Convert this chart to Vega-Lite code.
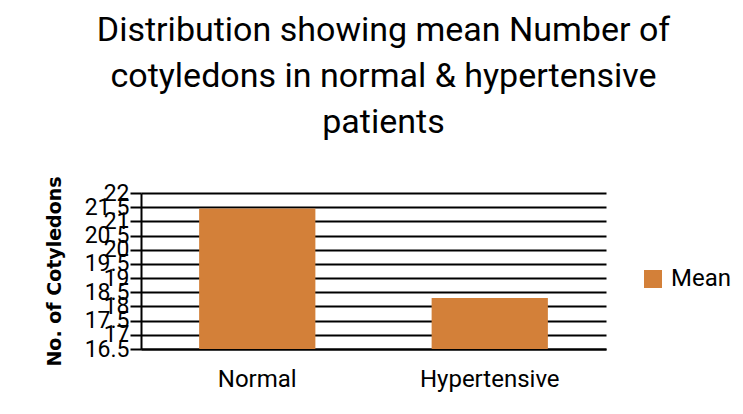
{
  "$schema": "https://vega.github.io/schema/vega-lite/v6.json",
  "autosize": "none",
  "width": 465,
  "height": 156,
  "padding": {"left": 141, "top": 193, "right": 137, "bottom": 65},
  "background": "white",
  "title": {
    "text": ["Distribution showing mean Number of", "cotyledons in normal & hypertensive", "patients"],
    "font": "Roboto",
    "fontSize": 34,
    "fontWeight": "normal",
    "color": "#000000",
    "lineHeight": 46,
    "anchor": "middle",
    "frame": "group",
    "dx": 10,
    "offset": 36
  },
  "data": {
    "values": [
      {"group": "Normal", "series": "Mean", "value": 21.45},
      {"group": "Hypertensive", "series": "Mean", "value": 18.3}
    ]
  },
  "mark": {"type": "bar", "color": "#D38039", "clip": true},
  "encoding": {
    "x": {
      "field": "group",
      "type": "nominal",
      "sort": ["Normal", "Hypertensive"],
      "scale": {"paddingInner": 0.5, "paddingOuter": 0.25},
      "axis": {
        "title": null,
        "labelAngle": 0,
        "labelFont": "Roboto",
        "labelFontSize": 24,
        "labelColor": "#000000",
        "labelPadding": 18,
        "ticks": false,
        "domainColor": "#000000",
        "domainWidth": 2
      }
    },
    "y": {
      "field": "value",
      "type": "quantitative",
      "scale": {"domain": [16.5, 22], "zero": false, "nice": false},
      "axis": {
        "title": "No. of Cotyledons",
        "titleFont": "DejaVu Sans",
        "titleFontSize": 19,
        "titleFontWeight": "bold",
        "titleColor": "#000000",
        "titlePadding": 20,
        "values": [16.5, 17, 17.5, 18, 18.5, 19, 19.5, 20, 20.5, 21, 21.5, 22],
        "format": "~g",
        "labelFont": "Roboto",
        "labelFontSize": 23,
        "labelColor": "#000000",
        "labelPadding": 1,
        "labelOverlap": false,
        "labelBound": false,
        "labelFlush": false,
        "tickSize": 11,
        "tickColor": "#000000",
        "tickWidth": 2,
        "grid": true,
        "gridColor": "#000000",
        "gridWidth": 2,
        "gridOpacity": 1,
        "domainColor": "#000000",
        "domainWidth": 2
      }
    },
    "fill": {
      "field": "series",
      "type": "nominal",
      "scale": {"range": ["#D38039"]},
      "legend": {
        "title": null,
        "orient": "none",
        "legendX": 500,
        "legendY": 74,
        "symbolType": "square",
        "symbolSize": 324,
        "symbolStrokeWidth": 0,
        "symbolOpacity": 1,
        "labelFont": "Roboto",
        "labelFontSize": 24,
        "labelColor": "#000000",
        "labelOffset": 6
      }
    }
  },
  "config": {
    "view": {"stroke": null}
  }
}
